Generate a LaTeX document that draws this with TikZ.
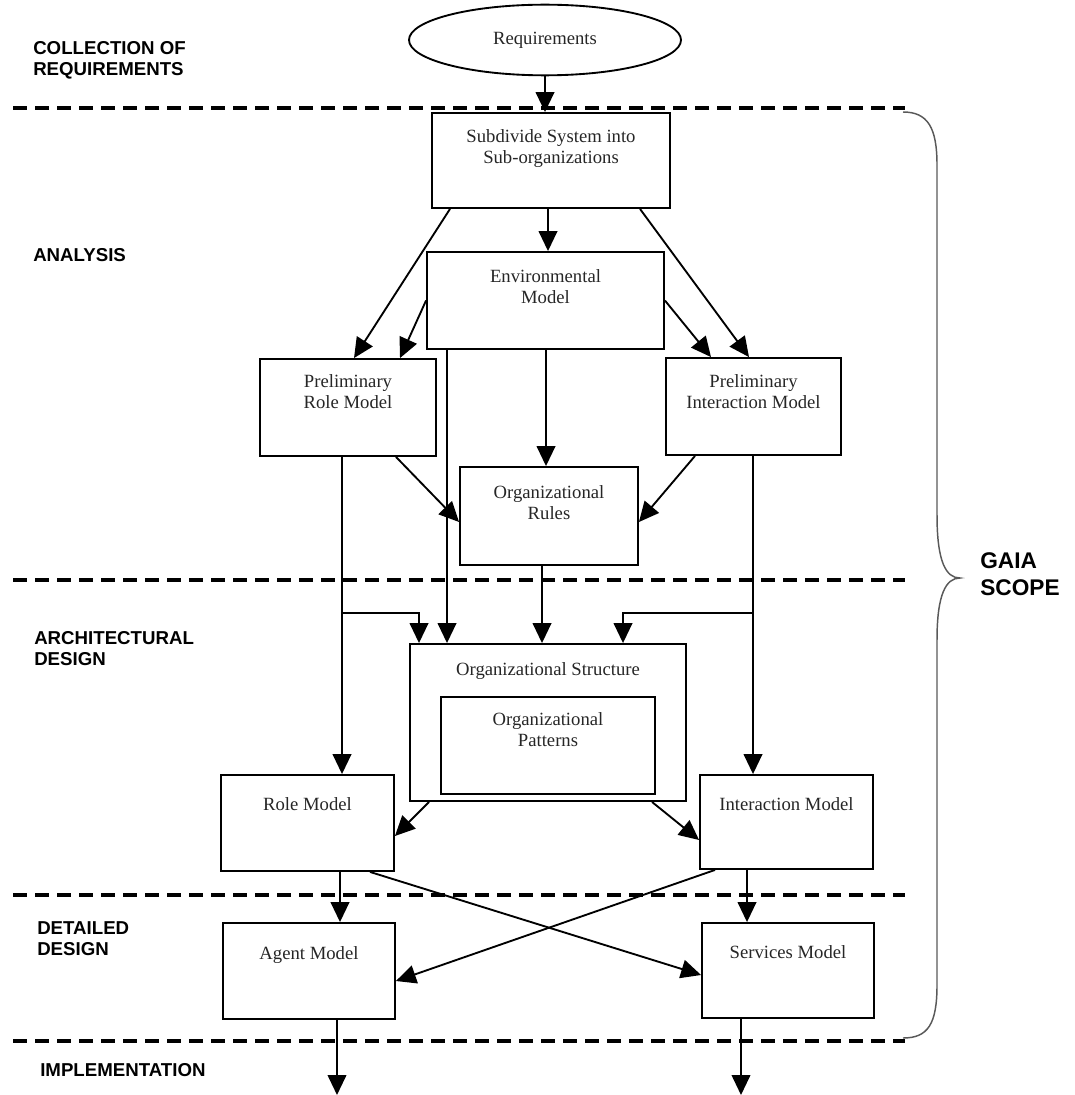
\documentclass[tikz,border=0pt]{standalone}
\usepackage{fontspec}
\setmainfont{Liberation Serif}
\newfontfamily\lsans{Liberation Sans}
\usetikzlibrary{arrows.meta,shapes.geometric,calc}
\begin{document}
\begin{tikzpicture}[x=0.75pt,y=-0.75pt,
  box/.style={draw, line width=1.4pt, rectangle, inner sep=0pt},
  txt/.style={anchor=north, inner sep=0pt, align=center, font=\fontsize{14}{16}\selectfont, text=black!85},
  arr/.style={line width=1.4pt, -{Triangle[length=15pt,width=14pt]}},
  sep/.style={line width=2.4pt, dash pattern=on 10.5pt off 6pt},
  phase/.style={anchor=west, inner sep=0pt, align=left, font=\lsans\bfseries\fontsize{14}{15.75}\selectfont},
]
\useasboundingbox (0,0) rectangle (1074,1095);

% phase separators
\draw[sep] (13,108) -- (905,108);
\draw[sep] (13,580) -- (905,580);
\draw[sep] (13,895) -- (905,895);
\draw[sep] (13,1041) -- (905,1041);

% phase labels
\node[phase] (pcol) at (33,60.5) {COLLECTION OF\\REQUIREMENTS};
\node[phase] (pana) at (33,255) {ANALYSIS};
\node[phase] (parc) at (34,648.5) {ARCHITECTURAL\\DESIGN};
\node[phase] (pdet) at (37,938.5) {DETAILED\\DESIGN};
\node[phase] (pimp) at (40,1070) {IMPLEMENTATION};

% brace and scope label
\draw[gray!70!black, line width=1.1pt] (903,112) .. controls (928,112) and (937,128) .. (937,165) -- (937,515) .. controls (937,562) and (946,578) .. (960,578) .. controls (946,578) and (937,594) .. (937,640) -- (937,985) .. controls (937,1024) and (928,1038) .. (903,1038);
\node[anchor=west, inner sep=0pt, align=left, font=\lsans\bfseries\fontsize{17}{20}\selectfont] (gaia) at (980,574) {GAIA\\SCOPE};

% nodes
\node[draw, ellipse, line width=1.4pt, minimum width=204pt, minimum height=53pt, inner sep=0pt, font=\fontsize{14}{16}\selectfont, text=black!85] (req) at (545,40) {Requirements};
\node[box, minimum width=178.5pt, minimum height=71.25pt] (sub) at (551,160.5) {};
\node[box, minimum width=177.75pt, minimum height=72.75pt] (env) at (545.5,300.5) {};
\node[box, minimum width=132pt, minimum height=72.75pt] (prole) at (348,407.5) {};
\node[box, minimum width=131.25pt, minimum height=72.75pt] (pint) at (753.5,406.5) {};
\node[box, minimum width=133.5pt, minimum height=73.5pt] (rules) at (549,516) {};
\node[box, minimum width=207pt, minimum height=117.75pt] (struct) at (548,722.5) {};
\node[box, minimum width=160.5pt, minimum height=72.75pt] (pat) at (548,745.5) {};
\node[box, minimum width=129.75pt, minimum height=72pt] (role) at (307.5,823) {};
\node[box, minimum width=129.75pt, minimum height=70.5pt] (inter) at (786.5,822) {};
\node[box, minimum width=129pt, minimum height=72pt] (agent) at (309,971) {};
\node[box, minimum width=129pt, minimum height=71.25pt] (serv) at (788,970.5) {};

% node texts
\node[txt] (subT) at ($(sub.north)+(0,17)$) {Subdivide System into\\Sub-organizations};
\node[txt] (envT) at ($(env.north)+(0,18)$) {Environmental\\Model};
\node[txt] (proleT) at ($(prole.north)+(0,16)$) {Preliminary\\Role Model};
\node[txt] (pintT) at ($(pint.north)+(0,17)$) {Preliminary\\Interaction Model};
\node[txt] (rulesT) at ($(rules.north)+(0,19)$) {Organizational\\Rules};
\node[txt] (structT) at ($(struct.north)+(0,19)$) {Organizational Structure};
\node[txt] (patT) at ($(pat.north)+(0,16)$) {Organizational\\Patterns};
\node[txt] (roleT) at ($(role.north)+(0,23)$) {Role Model};
\node[txt] (interT) at ($(inter.north)+(0,23)$) {Interaction Model};
\node[txt] (agentT) at ($(agent.north)+(0,24)$) {Agent Model};
\node[txt] (servT) at ($(serv.north)+(0,23)$) {Services Model};

% connectors
\draw[arr] (req.south) -- (sub.north -| req.south);
\draw[arr] (sub.south -| 548,0) -- (env.north -| 548,0);
\draw[arr] (sub.south -| 450,0) -- (prole.north -| 354,0);
\draw[arr] (env.west) -- (prole.north -| 400,0);
\draw[arr] (env.east) -- (pint.north -| 711,0);
\draw[arr] (sub.south -| 640,0) -- (pint.north -| 749,0);
\draw[arr] (env.south -| 546,0) -- (rules.north -| 546,0);
\draw[arr] (env.south -| 447,0) -- (struct.north -| 447,0);
\draw[arr] (prole.south -| 396,0) -- (rules.west |- 0,522);
\draw[arr] (pint.south -| 695,0) -- (rules.east |- 0,522);
\draw[arr] (rules.south -| 542,0) -- (struct.north -| 542,0);
\draw[arr] (prole.south -| 342,0) -- (role.north -| 342,0);
\coordinate (bl) at (342,613);
\draw[arr] (bl) -| (struct.north -| 419,0);
\draw[arr] (pint.south -| 753,0) -- (inter.north -| 753,0);
\coordinate (br) at (753,613);
\draw[arr] (br) -| (struct.north -| 623,0);
\draw[arr] (struct.south -| 429,0) -- (role.east |- 0,836);
\draw[arr] (struct.south -| 652,0) -- (inter.west |- 0,840);
\draw[arr] (role.south -| 340,0) -- (agent.north -| 340,0);
\draw[arr] (inter.south -| 747,0) -- (serv.north -| 747,0);
\draw[arr] (role.south -| 370,0) -- (serv.west |- 0,975);
\draw[arr] (inter.south -| 715,0) -- (agent.east |- 0,981);
\coordinate (outA) at (337,1095);
\coordinate (outS) at (741,1095);
\draw[arr] (agent.south -| 337,0) -- (outA);
\draw[arr] (serv.south -| 741,0) -- (outS);
\end{tikzpicture}
\end{document}
